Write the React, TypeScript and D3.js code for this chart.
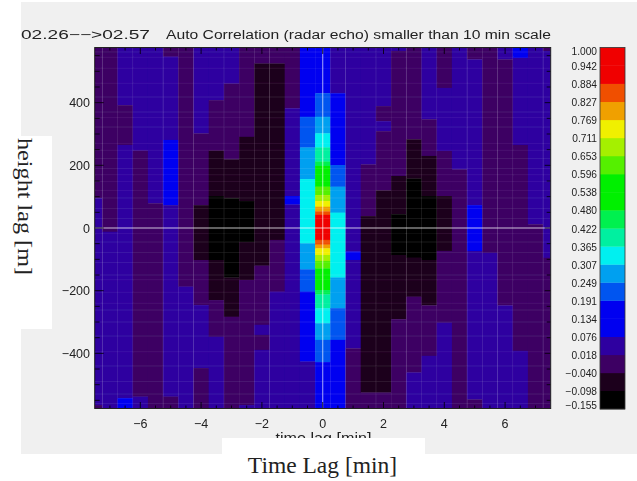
import React from "react";
import * as d3 from "d3";

// time lag of each column centre [min]
const timeLags = [
  -7.5, -7, -6.5, -6, -5.5, -5, -4.5, -4, -3.5, -3, -2.5, -2, -1.5, -1, -0.5, 0,
  0.5, 1, 1.5, 2, 2.5, 3, 3.5, 4, 4.5, 5, 5.5, 6, 6.5, 7, 7.5,
];

// each column, top to bottom: [height lag where the run ends, correlation]
const columns: [number, number][][] = [
  [[95, -0.01], [-565, 0.05], [-576, -0.01]],
  [[-12, -0.01], [-576, 0.05]],
  [[392, 0.05], [265, -0.01], [-543, 0.05], [-576, 0.13]],
  [[247, 0.05], [-538, -0.01], [-576, 0.05]],
  [[79, 0.05], [-576, -0.01]],
  [[547, -0.01], [281, 0.05], [73, 0.13], [-538, 0.05], [-576, -0.01]],
  [[-187, -0.01], [-576, 0.05]],
  [[302, 0.05], [73, -0.01], [-102, -0.07], [-246, -0.01], [-447, 0.05], [-576, -0.01]],
  [[408, 0.05], [247, -0.01], [102, -0.07], [-102, -0.125], [-230, -0.07], [-347, -0.01], [-576, 0.05]],
  [[461, 0.05], [219, -0.01], [95, -0.07], [-158, -0.125], [-283, -0.07], [-576, -0.01]],
  [[291, -0.01], [86, -0.07], [-44, -0.125], [-166, -0.07], [-565, -0.01], [-576, 0.05]],
  [[525, -0.01], [-120, -0.07], [-309, -0.01], [-341, 0.05], [-389, -0.01], [-576, 0.05]],
  [[525, -0.01], [-38, -0.07], [-203, -0.01], [-576, 0.05]],
  [[382, -0.01], [102, 0.05], [75, 0.13], [-576, 0.05]],
  [[355, 0.13], [257, 0.22], [156, 0.28], [-49, 0.335], [-132, 0.28], [-203, 0.22], [-426, 0.13], [-576, 0.05]],
  [
    [430, 0.13], [355, 0.22], [302, 0.28], [257, 0.335], [212, 0.39], [198, 0.45], [132, 0.54],
    [105, 0.62], [86, 0.68], [68, 0.74], [53, 0.8], [42, 0.855], [-38, 0.95], [-53, 0.855],
    [-65, 0.8], [-86, 0.74], [-105, 0.68], [-129, 0.62], [-198, 0.54], [-212, 0.45], [-256, 0.39],
    [-304, 0.335], [-357, 0.28], [-428, 0.22], [-576, 0.13],
  ],
  [[430, 0.05], [201, 0.13], [132, 0.22], [49, 0.28], [-158, 0.335], [-256, 0.28], [-357, 0.22], [-576, 0.13]],
  [[-75, 0.05], [-102, 0.13], [-384, 0.05], [-576, -0.01]],
  [[203, 0.05], [38, -0.01], [-525, -0.07], [-576, -0.01]],
  [[389, 0.05], [341, -0.01], [309, 0.05], [120, -0.01], [-525, -0.07], [-576, -0.01]],
  [[565, 0.05], [166, -0.01], [44, -0.07], [-86, -0.125], [-291, -0.07], [-576, -0.01]],
  [[576, 0.05], [283, -0.01], [158, -0.07], [-95, -0.125], [-219, -0.07], [-461, -0.01], [-576, 0.05]],
  [[347, 0.05], [230, -0.01], [102, -0.07], [-102, -0.125], [-247, -0.07], [-408, -0.01], [-576, 0.05]],
  [[447, -0.01], [246, 0.05], [102, -0.01], [-73, -0.07], [-302, -0.01], [-576, 0.05]],
  [[187, 0.05], [-576, -0.01]],
  [[538, -0.01], [73, 0.05], [-73, 0.13], [-547, 0.05], [-576, -0.01]],
  [[-79, -0.01], [-576, 0.05]],
  [[538, 0.05], [-247, -0.01], [-576, 0.05]],
  [[543, 0.13], [265, 0.05], [-392, -0.01], [-576, 0.05]],
  [[12, 0.05], [-576, -0.01]],
  [[565, -0.01], [-95, 0.05], [-576, -0.01]],
];

// faint seams left in the image by the plotting routine
const seamTimes = [-7.25, -6.25, -5.25, -4.25, -3.25, -1.75, 0.75, 1.75, 2.75, 3.75, 4.75, 5.75, 6.25, 7.25];
const seamLags = [
  562, 545, 510, 462, 418, 370, 352, 322, 270, 248, 222, 190, 170, 148, 120, 96, 62, 30,
  -18, -45, -78, -110, -150, -165, -205, -240, -262, -300, -345, -395, -440, -490, -530, -560,
];

const colorEdges = [
  -0.098, -0.04, 0.018, 0.076, 0.134, 0.191, 0.249, 0.307, 0.365, 0.422, 0.48, 0.538, 0.596, 0.653,
  0.711, 0.769, 0.827, 0.884, 0.942,
];
const bandColors = [
  "#000000", "#1e001e", "#3c0064", "#2d00a0", "#0000f0", "#0000f0", "#0055f0", "#00a0f0", "#00f0f0",
  "#00f0a0", "#00f050", "#00f000", "#00f000", "#55f000", "#a5f000", "#f0f000", "#f0a000", "#f05000",
  "#f00000", "#f00000",
];
const colorLabels = [
  "1.000", "0.942", "0.884", "0.827", "0.769", "0.711", "0.653", "0.596", "0.538", "0.480", "0.422",
  "0.365", "0.307", "0.249", "0.191", "0.134", "0.076", "0.018", "\u22120.040", "\u22120.098", "\u22120.155",
];

const xMajor = [-6, -4, -2, 0, 2, 4, 6];
const xMinor = d3.range(-7, 7.5, 0.5);
const yMajor = [-400, -200, 0, 200, 400];
const yMinor = d3.range(-550, 600, 50);

const LEFT = 94.7;
const RIGHT = 550.7;
const TOP = 47.5;
const BOTTOM = 408.5;
const COL_W = 15.2;

const sans = "'Liberation Sans', sans-serif";
const serif = "'Liberation Serif', serif";

export default function App() {
  const x = d3.scaleLinear().domain([-7.5, 7.5]).range([LEFT, RIGHT]);
  const y = d3.scaleLinear().domain([-576, 576]).range([BOTTOM, TOP]);
  const color = d3.scaleThreshold<number, string>().domain(colorEdges).range(bandColors);
  const barY = d3.scaleLinear().domain([0, 20]).range([TOP, BOTTOM + 0.5]);

  const cells = timeLags.flatMap((t, i) => {
    let top = 576;
    return columns[i].map(([end, value]) => {
      const cell = { t, top, end, value };
      top = end;
      return cell;
    });
  });

  return (
    <svg
      width={637}
      height={481}
      style={{ position: "absolute", left: 0, top: 0, background: "#fff" }}
    >
      <defs>
        <filter id="soft" filterUnits="userSpaceOnUse" x={0} y={0} width={637} height={481}>
          <feGaussianBlur stdDeviation="0.35" />
        </filter>
        <clipPath id="plot">
          <rect x={LEFT} y={TOP} width={RIGHT - LEFT} height={BOTTOM - TOP} />
        </clipPath>
      </defs>

      <rect x={21} y={2} width={616} height={452} fill="#f0f0f0" />

      <g filter="url(#soft)">
        <g clipPath="url(#plot)">
          {cells.map((c, i) => (
            <rect
              key={i}
              x={x(c.t) - COL_W / 2}
              y={y(c.top)}
              width={COL_W + 0.3}
              height={y(c.end) - y(c.top) + 0.3}
              fill={color(c.value)}
            />
          ))}
          {seamTimes.map((t) => (
            <line key={t} x1={x(t)} x2={x(t)} y1={TOP} y2={BOTTOM} stroke="#fff" strokeOpacity={0.1} />
          ))}
          {seamLags.map((l) => (
            <line key={l} x1={LEFT} x2={RIGHT} y1={y(l)} y2={y(l)} stroke="#fff" strokeOpacity={0.08} />
          ))}
          <line x1={x(0)} x2={x(0)} y1={TOP} y2={BOTTOM} stroke="#fff" strokeOpacity={0.55} strokeWidth={1.2} />
          <line x1={LEFT} x2={RIGHT} y1={y(0)} y2={y(0)} stroke="#fff" strokeOpacity={0.75} strokeWidth={1.2} />
        </g>

        {/* ticks on all four sides */}
        <g stroke="#000" strokeWidth={0.8}>
          {xMinor.map((t) => {
            const len = xMajor.includes(t) ? 6.5 : 3;
            return (
              <g key={t}>
                <line x1={x(t)} x2={x(t)} y1={BOTTOM} y2={BOTTOM - len} />
                <line x1={x(t)} x2={x(t)} y1={TOP} y2={TOP + len} />
              </g>
            );
          })}
          {yMinor.map((l) => {
            const major = yMajor.includes(l);
            return (
              <g key={l}>
                <line x1={LEFT} x2={LEFT + (major ? 9 : 5)} y1={y(l)} y2={y(l)} />
                <line x1={RIGHT} x2={RIGHT - (major ? 6 : 4)} y1={y(l)} y2={y(l)} />
              </g>
            );
          })}
        </g>
        <rect x={LEFT} y={TOP} width={RIGHT - LEFT} height={BOTTOM - TOP} fill="none" stroke="#222" strokeWidth={1} />

        {/* colour bar */}
        {bandColors.map((c, i) => (
          <rect
            key={i}
            x={600}
            y={barY(19 - i)}
            width={25}
            height={barY(1) - barY(0) + 0.3}
            fill={c}
          />
        ))}
        <rect x={600} y={TOP} width={25} height={BOTTOM + 0.5 - TOP} fill="none" stroke="#333" strokeWidth={0.8} />

        <g fontFamily={sans} fill="#222">
          <text x={21} y={38.5} fontSize={12.5} textLength={129} lengthAdjust="spacingAndGlyphs">
            {"02.26\u2212\u2212>02.57"}
          </text>
          <text x={166} y={38.5} fontSize={12.5} textLength={385} lengthAdjust="spacingAndGlyphs">
            Auto Correlation (radar echo) smaller than 10 min scale
          </text>
          {xMajor.map((t) => (
            <text key={t} x={x(t)} y={427.5} fontSize={12.5} textAnchor="middle">
              {t < 0 ? `\u2212${-t}` : t}
            </text>
          ))}
          {yMajor.map((l) => (
            <text key={l} x={90} y={y(l) + 4.5} fontSize={12.5} textAnchor="end">
              {l < 0 ? `\u2212${-l}` : l}
            </text>
          ))}
          {colorLabels.map((s, i) => {
            const cy = i === 0 ? barY(0) + 3.4 : i === 20 ? barY(20) - 3.4 : barY(i) + 0.7;
            return (
              <text key={s} x={597} y={cy + 3.6} fontSize={10.2} textAnchor="end">
                {s}
              </text>
            );
          })}
          <text x={323.5} y={443} fontSize={14.5} textAnchor="middle" textLength={96} lengthAdjust="spacingAndGlyphs">
            time lag [min]
          </text>
        </g>
      </g>

      {/* pasted-over label boxes */}
      <rect x={0} y={136} width={52} height={193} fill="#fff" />
      <rect x={222} y={438} width={203} height={43} fill="#fff" />

      <text
        transform="translate(17.5,206.5) rotate(90)"
        fontFamily={serif}
        fontSize={21}
        textAnchor="middle"
        textLength={137}
        lengthAdjust="spacingAndGlyphs"
        fill="#222"
      >
        height lag [m]
      </text>
      <text x={322.5} y={473} fontFamily={serif} fontSize={23.5} textAnchor="middle" fill="#222">
        Time Lag [min]
      </text>
    </svg>
  );
}
